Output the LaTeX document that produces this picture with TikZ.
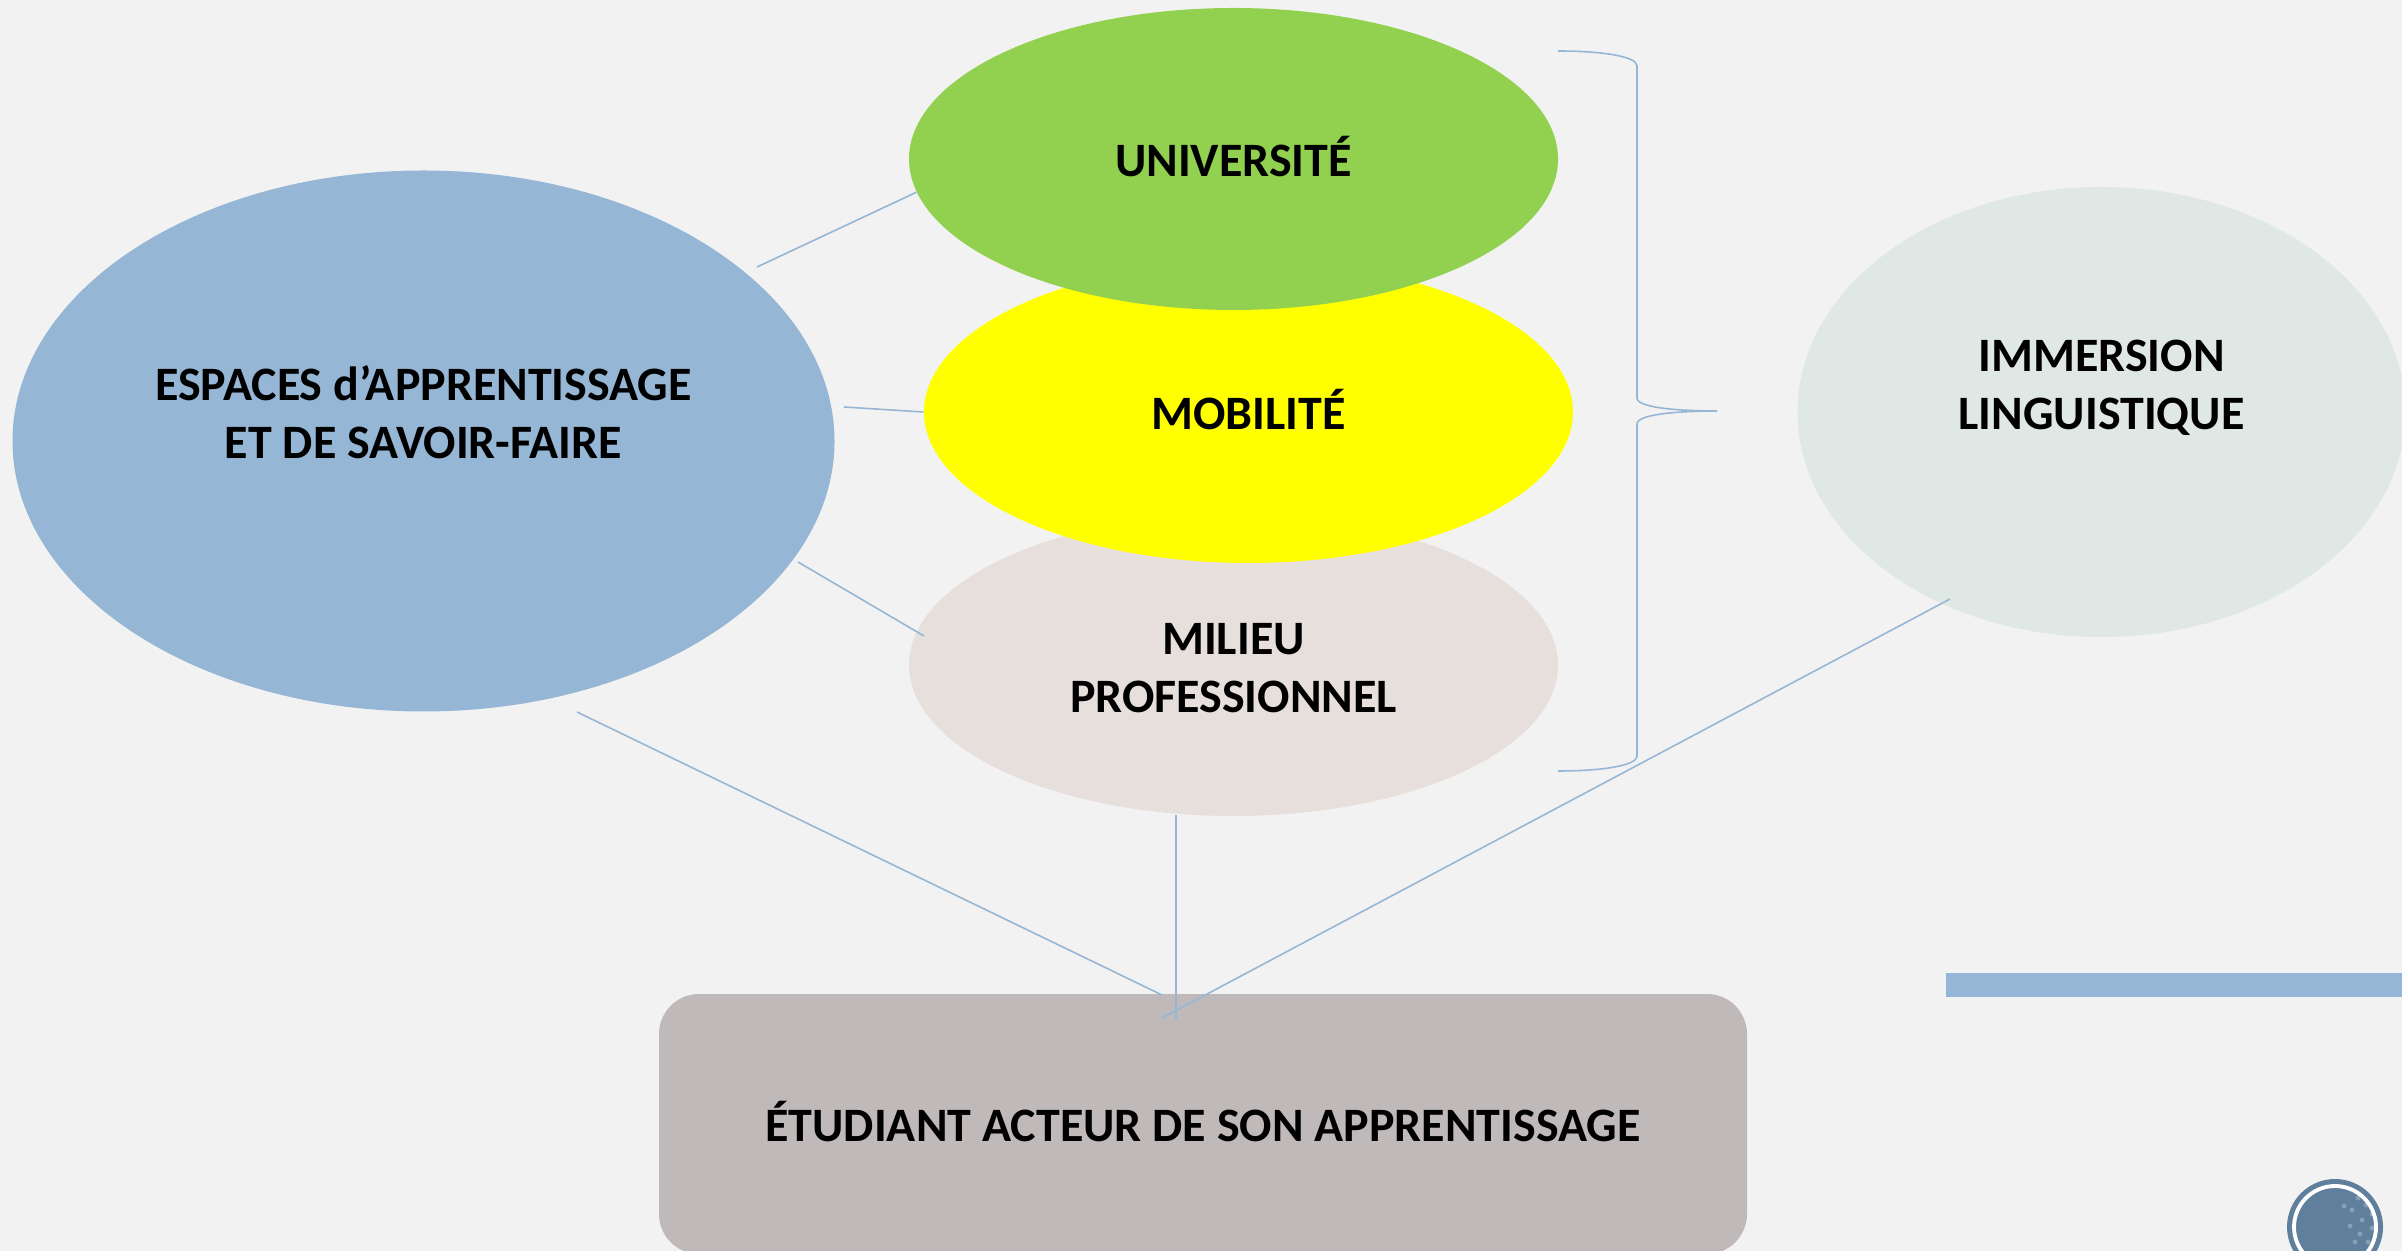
\documentclass[tikz,border=0pt]{standalone}
\usepackage{fontspec}
\setmainfont{Carlito}
\usetikzlibrary{shapes.geometric}
\definecolor{pagegray}{HTML}{F2F2F2}
\definecolor{linkblue}{HTML}{95B6D4}
\definecolor{leafgreen}{HTML}{92D050}
\definecolor{purelemon}{HTML}{FFFF00}
\definecolor{sandgray}{HTML}{E6DFDB}
\definecolor{palegreen}{HTML}{DFE8E4}
\definecolor{taupe}{HTML}{C0B9B9}
\definecolor{badgeblue}{HTML}{5F7F9C}
\newcommand{\capline}{\rule{0pt}{9.8pt}}
\tikzset{
  oval/.style={ellipse,inner sep=0pt,align=center,font=\fontsize{13.65}{16.4}\selectfont\bfseries},
  smalloval/.style={oval,minimum width=6.49cm,minimum height=3.02cm},
  link/.style={draw=linkblue,line width=0.45pt},
  speck/.style={fill=white,fill opacity=0.25}
}
\begin{document}
\begin{tikzpicture}
  \useasboundingbox (0,0) rectangle (24.02,-12.51);
  \fill[pagegray] (0,0) rectangle (24.02,-12.51);
  \fill[linkblue] (19.46,-9.73) rectangle (24.02,-9.97);
  % ovals, bottom one first
  \draw (4.235,-4.41) node[oval,fill=linkblue,minimum width=8.22cm,minimum height=5.41cm] (espaces)
   {\capline ESPACES d’APPRENTISSAGE\\ET DE SAVOIR-FAIRE\\\mbox{}};
  \draw (12.335,-6.65) node[smalloval,fill=sandgray] (milieu) {\rule{0pt}{10.5pt}MILIEU\\PROFESSIONNEL};
  \draw (12.485,-4.12) node[smalloval,fill=purelemon] (mobilite) {\capline MOBILIT\smash{É}};
  \draw (12.335,-1.59) node[smalloval,fill=leafgreen] (universite) {\capline UNIVERSIT\smash{É}};
  \draw (21.015,-4.12) node[oval,fill=palegreen,minimum width=6.08cm,minimum height=4.50cm] (immersion)
   {\capline IMMERSION\\LINGUISTIQUE\\\mbox{}};
  \fill[taupe,rounded corners=0.40cm] (6.59,-9.94) rectangle (17.47,-12.54);
  \draw (12.03,-11.24) node[oval,ellipse=false,rectangle] (etudiant) {\capline\smash{É}TUDIANT ACTEUR DE SON APPRENTISSAGE};
  % free ends of the links
  \coordinate (espacesA) at (7.57,-2.67);
  \coordinate (espacesB) at (8.44,-4.07);
  \coordinate (espacesC) at (7.98,-5.62);
  \coordinate (espacesD) at (5.77,-7.12);
  \coordinate (milieuA) at (9.24,-6.36);
  \coordinate (milieuB) at (11.76,-8.15);
  \coordinate (immersionA) at (19.50,-5.99);
  \coordinate (etudiantA) at (11.62,-9.95);
  \coordinate (etudiantB) at (11.76,-10.19);
  \coordinate (etudiantC) at (11.62,-10.18);
  \draw[link] (espacesA) -- (universite.186);
  \draw[link] (espacesB) -- (mobilite.west);
  \draw[link] (espacesC) -- (milieuA);
  \draw[link] (espacesD) -- (etudiantA);
  \draw[link] (milieuB) -- (etudiantB);
  \draw[link] (immersionA) -- (etudiantC);
  % brace
  \coordinate (braceTop) at (15.58,-0.51);
  \coordinate (braceTip) at (17.17,-4.11);
  \coordinate (braceEnd) at (15.58,-7.71);
  \draw[link] (braceTop) .. controls (16.00,-0.51) and (16.37,-0.56) .. (16.37,-0.66)
   -- (16.37,-3.98) .. controls (16.37,-4.08) and (16.80,-4.11) .. (braceTip)
   .. controls (16.80,-4.11) and (16.37,-4.14) .. (16.37,-4.24)
   -- (16.37,-7.56) .. controls (16.37,-7.66) and (16.00,-7.71) .. (braceEnd);
  % badge
  \fill[badgeblue] (23.35,-12.27) circle (0.48);
  \foreach \px/\py in {23.58/-11.98,23.66/-12.05,23.72/-12.14,23.52/-12.10,23.62/-12.20,23.72/-12.28,
    23.50/-12.26,23.60/-12.34,23.68/-12.42,23.44/-12.06,23.55/-12.42}
    \fill[speck] (\px,\py) circle (0.025);
  \draw[white,line width=1.1pt] (23.35,-12.27) circle (0.41);
\end{tikzpicture}
\end{document}
